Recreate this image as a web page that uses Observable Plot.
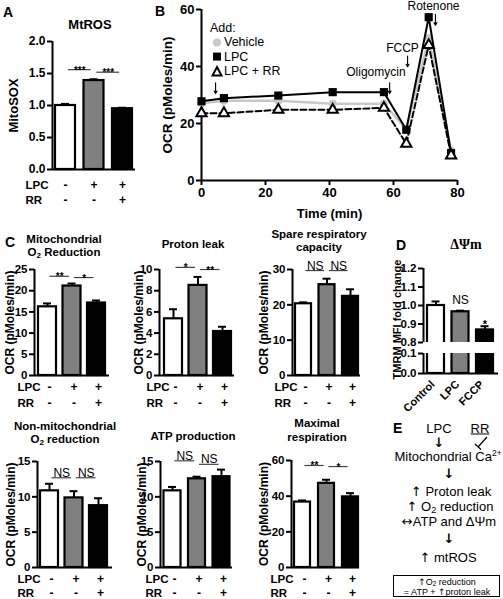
<!DOCTYPE html>
<html><head><meta charset="utf-8">
<script src="https://cdn.jsdelivr.net/npm/d3@7"></script>
<script src="https://cdn.jsdelivr.net/npm/@observablehq/plot@0.6"></script>
<style>
html,body{margin:0;padding:0;background:#fff;}
#fig{position:relative;width:503px;height:599px;overflow:hidden;font-family:"Liberation Sans",Arial,sans-serif;color:#000;background:#fff;}
#fig svg{position:absolute;left:0;top:0;overflow:visible;font-family:"Liberation Sans",Arial,sans-serif;}
.lbl{position:absolute;white-space:nowrap;line-height:1;}
.lbl sub{font-size:70%;vertical-align:-0.25em;line-height:0;}
.lbl sup{font-size:65%;vertical-align:0.5em;line-height:0;}
.ar{font-family:"DejaVu Sans",sans-serif;}
</style></head><body><div id="fig"></div><script>
// ---------- data ----------
const conditions = ["Control", "LPC", "LPC + RR"];
const lpcRow = ["-", "+", "+"];
const rrRow = ["-", "-", "+"];
const barFills = ["white", "#808080", "black"];

// A: MtROS
const mtrosMean = [1.00, 1.39, 0.95];
const mtrosErr = [1.025, 1.41, 0.965];
const mtrosTicks = [0, 0.5, 1.0, 1.5, 2.0];
const mtrosSigY = [1.56, 1.52];
const mtrosSigLabel = ["***", "***"];

// B: OCR time course
const timeMin = [0, 7, 24, 41, 57, 64, 71, 78];
const ocrVehicle = [27.1, 28.0, 28.0, 26.9, 26.9, 18.0, 50.0, 10.5];
const ocrLPC = [27.8, 28.9, 29.8, 31.0, 31.0, 17.8, 57.3, 9.6];
const ocrLPCRR = [23.6, 23.6, 24.8, 24.8, 25.5, 12.9, 47.5, 8.8];
const timeTicks = [0, 20, 40, 60, 80];
const ocrTicks = [0, 20, 40, 60];
const injLabel = ["Oligomycin", "FCCP", "Rotenone"];
const injLabelT = [54.5, 62.8, 72.5];
const injLabelY = [37.9, 46.3, 61.2];
const arrowT = [4.4, 58.8, 64.4, 73.1];
const arrowY = [32.4, 32.4, 41.8, 56.4];

// C panels
const mitoMean = [16.2, 21.1, 17.1], mitoErr = [17.0, 21.7, 17.7];
const mitoTicks = [0, 5, 10, 15, 20, 25], mitoSigY = [23.4, 23.1], mitoSigLabel = ["**", "*"];
const leakMean = [5.35, 8.5, 4.15], leakErr = [6.25, 9.3, 4.6];
const leakTicks = [0, 2, 4, 6, 8, 10], leakSigY = [10.2, 10.0], leakSigLabel = ["*", "**"];
const spareMean = [20.3, 25.7, 22.4], spareErr = [20.7, 27.4, 24.4];
const spareTicks = [0, 10, 20, 30], spareSigY = [29.7, 29.7], spareSigLabel = ["NS", "NS"];
const nonMitoMean = [10.85, 9.85, 8.75], nonMitoErr = [11.85, 10.8, 9.8];
const nonMitoTicks = [0, 5, 10, 15], nonMitoSigY = [12.7, 12.7], nonMitoSigLabel = ["NS", "NS"];
const atpMean = [10.85, 12.55, 12.85], atpErr = [11.4, 12.85, 13.85];
const atpTicks = [0, 5, 10, 15], atpSigY = [15.1, 14.6], atpSigLabel = ["NS", "NS"];
const maxMean = [36.7, 47.2, 39.6], maxErr = [37.6, 49.2, 41.7];
const maxTicks = [0, 20, 40, 60], maxSigY = [57.2, 56.6], maxSigLabel = ["**", "*"];

// D: membrane potential
const dLabels = ["Control", "LPC", "FCCP"];
const dMean = [1.0, 0.966, 0.868];
const dErr = [1.022, 0.972, 0.888];
const dTicksUpper = [0.8, 0.9, 1.0, 1.1, 1.2];
const dTicksLower = [0.0, 0.1];
const dSigLabel = ["", "NS", "*"];

// ---------- drawing ----------
const W = 503, H = 599;
const FONT = "Liberation Sans";
const fig = document.getElementById("fig");
const idx = [0, 1, 2];

function barPanel(p) {
  const unit = p.unit ?? 24.5, off = p.off ?? 13, span = p.span ?? 75;
  const xmin = -off / unit, xmax = xmin + span / unit;
  const bw = (p.barW ?? 18) / unit / 2, cap = 4 / unit;
  const [ylo] = p.yDomain;
  const mean = p.mean, err = p.err;
  const T = {fontFamily: FONT};
  const marks = [
    Plot.rectY(idx, {x1: i => i - bw, x2: i => i + bw, y1: p.barBase ?? ylo, y2: i => (p.barTop ? p.barTop : mean[i]),
      fill: i => barFills[i], stroke: "black", strokeWidth: 2.2, clip: !!p.clip})
  ];
  if (err) {
    marks.push(Plot.ruleX(idx, {x: i => i, y1: i => mean[i], y2: i => err[i], strokeWidth: 2}));
    marks.push(Plot.ruleY(idx, {y: i => err[i], x1: i => i - cap, x2: i => i + cap, strokeWidth: 2}));
  }
  marks.push(Plot.ruleX([xmin], {strokeWidth: 2}));
  if (p.xLine !== false) marks.push(Plot.ruleY([ylo], {strokeWidth: 2}));
  marks.push(Plot.axisY({ticks: p.ticks, tickFormat: p.fmt ?? (d => d), tickSize: 5, tickPadding: 2,
    strokeWidth: 2, fontSize: p.tickFont ?? 11.5, fontWeight: "bold", label: null, ...T}));
  if (p.sigY) {
    const ns = p.sigLabel[0] === "NS";
    marks.push(Plot.ruleY(p.sigY, {y: d => d, x1: (d, i) => i + 0.1, x2: (d, i) => i + 0.9, stroke: "#444", strokeWidth: 1.2}));
    marks.push(Plot.text(p.sigY, {x: (d, i) => i + 0.5, y: d => d, text: (d, i) => p.sigLabel[i],
      lineAnchor: "bottom", dy: ns ? -1 : 4, fontSize: ns ? 12 : 10, fontWeight: ns ? "normal" : "bold", ...T}));
  }
  if (p.rows !== false) {
    const [d1, d2] = p.rowDy;
    const rdx = p.rowDx ?? 2;
    const common = {frameAnchor: "bottom", lineAnchor: "middle", textAnchor: "middle", dx: rdx, fontSize: 12, fontWeight: "bold", ...T};
    marks.push(Plot.text(idx, {x: i => i, text: i => lpcRow[i], dy: d1, ...common}));
    marks.push(Plot.text(idx, {x: i => i, text: i => rrRow[i], dy: d2, ...common}));
    const head = {frameAnchor: "bottom-left", lineAnchor: "middle", textAnchor: "start", dx: p.headDx, fontSize: 11.5, fontWeight: "bold", ...T};
    marks.push(Plot.text(["LPC"], {text: d => d, dy: d1, ...head}));
    marks.push(Plot.text(["RR"], {text: d => d, dy: d2, ...head}));
  }
  if (p.ylabel) {
    marks.push(Plot.text([p.ylabel], {text: d => d, frameAnchor: "left", textAnchor: "middle", lineAnchor: "middle",
      rotate: -90, dx: p.ylabelX - p.x0, dy: p.ylabelDy ?? 0, fontSize: p.ylabelFont ?? 12, fontWeight: "bold", ...T}));
  }
  if (p.extra) marks.push(...p.extra(xmin));
  const svg = Plot.plot({
    width: W, height: H,
    marginLeft: p.x0, marginRight: W - p.x0 - span,
    marginTop: p.top, marginBottom: H - p.bottom,
    x: {domain: [xmin, xmax], axis: null},
    y: {domain: p.yDomain},
    color: {type: "identity"},
    style: {background: "transparent", fontWeight: "bold", color: "black", overflow: "visible"},
    marks
  });
  fig.appendChild(svg);
}

// Panel A
barPanel({x0: 52, unit: 28.5, off: 13, span: 83, barW: 20, top: 41, bottom: 169, yDomain: [0, 2],
  ticks: mtrosTicks, fmt: d3.format(".1f"), mean: mtrosMean, err: mtrosErr, sigY: mtrosSigY, sigLabel: mtrosSigLabel,
  rowDy: [16, 31], rowDx: 0, headDx: -27, ylabel: "MitoSOX", ylabelX: 13, ylabelFont: 13, tickFont: 12});

// Panel C top row
barPanel({x0: 34, top: 269, bottom: 375, yDomain: [0, 25], ticks: mitoTicks, mean: mitoMean, err: mitoErr,
  sigY: mitoSigY, sigLabel: mitoSigLabel, rowDy: [12, 28], headDx: -17, ylabel: "OCR (pMoles/min)", ylabelX: 10});
barPanel({x0: 159, off: 14, top: 269, bottom: 375, yDomain: [0, 10], ticks: leakTicks, mean: leakMean, err: leakErr,
  sigY: leakSigY, sigLabel: leakSigLabel, rowDy: [12, 28], headDx: -13, ylabel: "OCR (pMoles/min)", ylabelX: 139});
barPanel({x0: 292, off: 11, unit: 23.5, span: 68, barW: 16, top: 269, bottom: 375, yDomain: [0, 30], ticks: spareTicks,
  mean: spareMean, err: spareErr, sigY: spareSigY, sigLabel: spareSigLabel, rowDy: [12, 28], headDx: -18,
  ylabel: "OCR (pMoles/min)", ylabelX: 264});

// Panel C bottom row
barPanel({x0: 37, off: 12, top: 461, bottom: 567, yDomain: [0, 15], ticks: nonMitoTicks, mean: nonMitoMean, err: nonMitoErr,
  sigY: nonMitoSigY, sigLabel: nonMitoSigLabel, rowDy: [12, 25.5], headDx: -20, ylabel: "OCR (pMoles/min)", ylabelX: 11});
barPanel({x0: 160, off: 12, span: 72, barW: 17, top: 461, bottom: 567, yDomain: [0, 15], ticks: atpTicks, mean: atpMean, err: atpErr,
  sigY: atpSigY, sigLabel: atpSigLabel, rowDy: [12, 25.5], headDx: -15, ylabel: "OCR (pMoles/min)", ylabelX: 142});
barPanel({x0: 291, off: 11, unit: 24, span: 68, barW: 16, top: 460, bottom: 567, yDomain: [0, 60], ticks: maxTicks,
  mean: maxMean, err: maxErr, sigY: maxSigY, sigLabel: maxSigLabel, rowDy: [12, 25.5], headDx: -21,
  ylabel: "OCR (pMoles/min)", ylabelX: 264});

// Panel D (broken axis: two segments)
barPanel({x0: 423, off: 12.5, span: 75, barW: 17, top: 268, bottom: 342, yDomain: [0.8, 1.2], ticks: dTicksUpper,
  fmt: d3.format(".1f"), mean: dMean, err: dErr, barBase: 0.75, clip: true, xLine: false, rows: false,
  ylabel: "TMRM MFI fold change", ylabelX: 397, ylabelDy: 14, ylabelFont: 11, tickFont: 11.5,
  extra: () => [
    Plot.text([1], {x: i => i, y: i => dErr[i], text: i => dSigLabel[i], lineAnchor: "bottom", dy: -7,
      fontSize: 12, fontWeight: "normal", fontFamily: FONT}),
    Plot.text([2], {x: i => i, y: i => dErr[i], text: i => dSigLabel[i], lineAnchor: "bottom", dy: 2,
      fontSize: 11, fontWeight: "bold", fontFamily: FONT})
  ]});
barPanel({x0: 423, off: 12.5, span: 75, barW: 17, top: 353, bottom: 373, yDomain: [0, 0.1], ticks: dTicksLower,
  fmt: d3.format(".1f"), mean: dMean, barTop: 0.12, clip: true, rows: false, tickFont: 11.5,
  extra: () => [
    Plot.text(idx, {x: i => i, text: i => dLabels[i], frameAnchor: "bottom", rotate: -45, textAnchor: "end", lineAnchor: "middle",
      dx: -3, dy: 9, fontSize: 11, fontWeight: "bold", fontFamily: FONT})
  ]});

// Panel B
const tIdx = d3.range(timeMin.length);
const svgB = Plot.plot({
  width: W, height: H,
  marginLeft: 201, marginRight: W - 457, marginTop: 9, marginBottom: H - 180,
  x: {domain: [0, 80]},
  y: {domain: [0, 60]},
  style: {background: "transparent", color: "black", overflow: "visible"},
  marks: [
    Plot.ruleX([0], {strokeWidth: 2}),
    Plot.ruleY([0], {strokeWidth: 2}),
    Plot.axisX({ticks: timeTicks, tickSize: 5, tickPadding: 2, strokeWidth: 2, fontSize: 13, fontWeight: "bold", fontFamily: FONT, label: null}),
    Plot.axisY({ticks: ocrTicks, tickSize: 5, tickPadding: 2, strokeWidth: 2, fontSize: 13, fontWeight: "bold", fontFamily: FONT, label: null}),
    Plot.line(tIdx, {x: i => timeMin[i], y: i => ocrVehicle[i], stroke: "#c8c8c8", strokeWidth: 2.5}),
    Plot.dot(tIdx, {x: i => timeMin[i], y: i => ocrVehicle[i], fill: "#c8c8c8", r: 4}),
    Plot.line(tIdx, {x: i => timeMin[i], y: i => ocrLPCRR[i], stroke: "black", strokeWidth: 2, strokeDasharray: "6,3"}),
    Plot.line(tIdx, {x: i => timeMin[i], y: i => ocrLPC[i], stroke: "black", strokeWidth: 2}),
    Plot.dot(tIdx, {x: i => timeMin[i], y: i => ocrLPC[i], symbol: "square", fill: "black", r: 4.6}),
    Plot.dot(tIdx, {x: i => timeMin[i], y: i => ocrLPCRR[i], symbol: "triangle", fill: "white", stroke: "black", strokeWidth: 2, r: 3.8}),
    Plot.text(injLabel, {x: (d, i) => injLabelT[i], y: (d, i) => injLabelY[i], text: d => d, fontSize: 12, fontFamily: FONT}),
    Plot.arrow(arrowT, {x1: d => d, x2: d => d, y1: (d, i) => arrowY[i] + 1.9, y2: (d, i) => arrowY[i] - 1.9,
      stroke: "black", strokeWidth: 1.1, headLength: 4}),
    Plot.text(["OCR (pMoles/min)"], {text: d => d, frameAnchor: "left", textAnchor: "middle", lineAnchor: "middle",
      rotate: -90, dx: -34, fontSize: 13.5, fontWeight: "bold", fontFamily: FONT}),
    Plot.text(["Time (min)"], {text: d => d, frameAnchor: "bottom", lineAnchor: "middle", dy: 33, fontSize: 13, fontWeight: "bold", fontFamily: FONT})
  ]
});
fig.appendChild(svgB);

// ---------- HTML text (titles, legend, scheme) ----------
function lab(html, x, y, o = {}) {
  const d = document.createElement("div");
  d.className = "lbl";
  d.innerHTML = html;
  d.style.left = x + "px"; d.style.top = y + "px";
  d.style.fontSize = (o.size || 12) + "px";
  d.style.fontWeight = o.bold ? "bold" : "normal";
  if (o.family) d.style.fontFamily = o.family;
  const tx = o.align === "left" ? "0" : o.align === "right" ? "-100%" : "-50%";
  d.style.transform = `translate(${tx}, -50%)`;
  fig.appendChild(d);
  return d;
}
const A = s => `<span class="ar">${s}</span>`;
// panel letters
lab("A", 3, 12, {size: 14, bold: true, align: "left"});
lab("B", 155, 11, {size: 14, bold: true, align: "left"});
lab("C", 5, 242, {size: 14, bold: true, align: "left"});
lab("D", 396, 245, {size: 14, bold: true, align: "left"});
lab("E", 393, 428, {size: 14, bold: true, align: "left"});
// titles
lab("MtROS", 90, 24, {size: 13, bold: true});
lab("Mitochondrial", 64, 240, {size: 11.5, bold: true});
lab("O<sub>2</sub> Reduction", 64, 253, {size: 11.5, bold: true});
lab("Proton leak", 193, 245, {size: 11.5, bold: true});
lab("Spare respiratory", 319, 235, {size: 11.5, bold: true});
lab("capacity", 319, 248, {size: 11.5, bold: true});
lab("Non-mitochondrial", 65, 427, {size: 11.5, bold: true});
lab("O<sub>2</sub> reduction", 65, 440, {size: 11.5, bold: true});
lab("ATP production", 193, 437, {size: 11.5, bold: true});
lab("Maximal", 317, 424, {size: 11.5, bold: true});
lab("respiration", 317, 438, {size: 11.5, bold: true});
lab("ΔΨm", 466, 245, {size: 14, bold: true, family: "'Liberation Serif', 'DejaVu Serif', serif"});

// legend B
const legendNames = ["Vehicle", "LPC", "LPC + RR"];
lab("Add:", 210, 28, {size: 12.5, align: "left"});
const legendSyms = [
  '<circle cx="6" cy="6" r="4" fill="#c8c8c8"/>',
  '<rect x="2" y="2" width="8" height="8" fill="black"/>',
  '<path d="M6,1.5 L10.5,10 L1.5,10 Z" fill="white" stroke="black" stroke-width="2"/>'
];
legendNames.forEach((n, i) => {
  const y = 42 + i * 14.5;
  lab(`<svg width="12" height="12" style="position:static;vertical-align:middle">${legendSyms[i]}</svg>`, 211, y, {align: "left"});
  lab(n, 224, y, {size: 12.5, align: "left"});
});

// panel E scheme
lab("LPC", 439, 428, {size: 13});
const rr = lab("RR", 480, 428, {size: 13});
rr.style.textDecoration = "underline";
lab(A("↓"), 439, 442, {size: 13, bold: true});
const inh = document.createElement("div");
inh.style.cssText = "position:absolute;left:470px;top:433px;";
inh.innerHTML = '<svg width="22" height="20" style="position:static"><line x1="17" y1="4" x2="8" y2="14" stroke="black" stroke-width="1.2"/><line x1="5" y1="11" x2="11" y2="16.5" stroke="black" stroke-width="1.2"/></svg>';
fig.appendChild(inh);
lab("Mitochondrial Ca<sup>2+</sup>", 448, 456, {size: 13});
lab(A("↓"), 449, 473, {size: 13, bold: true});
lab(A("↑") + " Proton leak", 451, 491, {size: 13});
lab(A("↑") + " O<sub>2</sub> reduction", 450, 506, {size: 13});
lab(A("↔") + "ATP and ΔΨm", 449, 521, {size: 13});
lab(A("↓"), 449, 538, {size: 13, bold: true});
lab(A("↑") + " mtROS", 448, 557, {size: 13});
const box = document.createElement("div");
box.style.cssText = "position:absolute;left:393px;top:575px;width:107px;height:22px;border:1px solid #000;box-sizing:border-box;";
fig.appendChild(box);
lab(A("↑") + "O<sub>2</sub> reduction", 447, 582, {size: 9});
lab("= ATP + " + A("↑") + "proton leak", 447, 592, {size: 9});
</script></body></html>
